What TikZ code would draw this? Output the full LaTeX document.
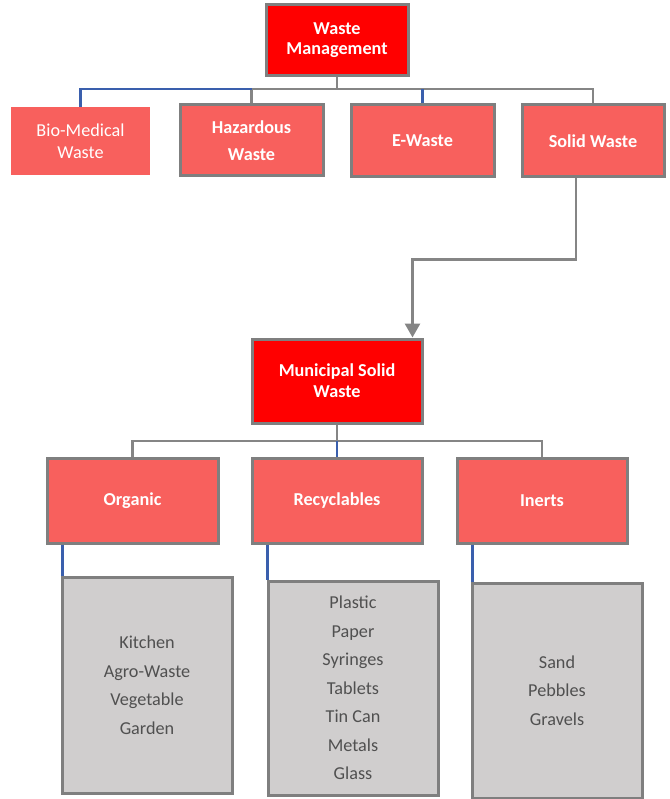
\documentclass[tikz,border=0pt]{standalone}
\usepackage{fontspec}
\setmainfont{Carlito}
\usetikzlibrary{arrows.meta,calc}
\definecolor{boxred}{HTML}{F8605D}
\definecolor{brdgray}{HTML}{7F7F7F}
\definecolor{lngray}{HTML}{858585}
\definecolor{lnblue}{HTML}{3A5FAD}
\definecolor{listfill}{HTML}{D0CECE}
\definecolor{listtext}{HTML}{505050}
\tikzset{
  redbox/.style={draw=brdgray, line width=3pt, fill=boxred, text=white, font=\bfseries\fontsize{18.2}{20}\selectfont, align=center, inner sep=0pt},
  topbox/.style={redbox, fill=red},
  listbox/.style={draw=brdgray, line width=3pt, fill=listfill, inner sep=0pt},
  listtxt/.style={text=listtext, font=\fontsize{18.2}{28.5}\selectfont, align=center},
  gl/.style={draw=lngray, line width=2.8pt},
  bl/.style={draw=lnblue, line width=2.2pt}
}
\begin{document}
\begin{tikzpicture}[x=1pt,y=-1pt]
\useasboundingbox (0,0) rectangle (669,799);
% top level
\node[topbox, minimum width=142, minimum height=71] (wm) at (337,40.5) {Waste\\Management};
\node[draw=none, fill=boxred, text=white, font=\fontsize{18.2}{21.5}\selectfont, align=center, inner sep=0pt, minimum width=139, minimum height=68] (bio) at (80.5,141) {Bio-Medical\\Waste};
\node[redbox, minimum width=143, minimum height=71, font=\bfseries\fontsize{18.2}{27.5}\selectfont] (haz) at (251.5,140.5) {Hazardous\\Waste};
\node[redbox, minimum width=143, minimum height=72] (ew) at (422.5,140.5) {E-Waste};
\node[redbox, minimum width=142, minimum height=72] (sw) at (593,141) {Solid Waste};
% second level
\node[topbox, minimum width=170, minimum height=84, font=\bfseries\fontsize{18.2}{21}\selectfont] (msw) at (337,381) {Municipal Solid\\Waste};
\node[redbox, minimum width=171, minimum height=85] (org) at (132.5,500.5) {Organic};
\node[redbox, minimum width=170, minimum height=85] (rec) at (337,500.5) {Recyclables};
\node[redbox, minimum width=170, minimum height=85] (ine) at (542,500.5) {Inerts};
% lists
\node[listbox, minimum width=170, minimum height=216] (orgl) at (147,685) {};
\node[listbox, minimum width=170, minimum height=214] (recl) at (353,688) {};
\node[listbox, minimum width=170, minimum height=215] (inel) at (557,690.5) {};
\node[listtxt] (orgt) at (orgl.center) {Kitchen\\Agro-Waste\\Vegetable\\Garden};
\node[listtxt] (rect) at (recl.center) {Plastic\\Paper\\Syringes\\Tablets\\Tin Can\\Metals\\Glass};
\node[listtxt] (inet) at (inel.center) {Sand\\Pebbles\\Gravels};
% connectors top
\coordinate (bus1) at (337,89);
\draw[gl] (wm.south -| bus1) -- (bus1);
\draw[gl] (haz.north) |- (sw.north |- bus1) -- (sw.north);
\draw[bl] (haz.north |- bus1) -| (bio.north);
\draw[bl] (ew.north |- bus1) -- (ew.north);
% solid waste to MSW
\coordinate (bend) at (412.5,259.5);
\draw[gl, -{Triangle[width=15pt,length=14pt]}] ([xshift=-17pt]sw.south) |- (bend) -- (bend |- msw.north);
% MSW bus
\coordinate (bus2) at (337,441);
\draw[gl] (msw.south -| bus2) -- (bus2);
\draw[gl] (org.north) |- (ine.north |- bus2) -- (ine.north);
\draw[bl] (bus2) -- (rec.north);
% list connectors
\draw[bl] ([xshift=17pt]org.south west) -- ([xshift=17pt]org.south west |- orgl.north);
\draw[bl] ([xshift=17pt]rec.south west) -- ([xshift=17pt]rec.south west |- recl.north);
\draw[bl] ([xshift=17pt]ine.south west) -- ([xshift=17pt]ine.south west |- inel.north);
\end{tikzpicture}
\end{document}
